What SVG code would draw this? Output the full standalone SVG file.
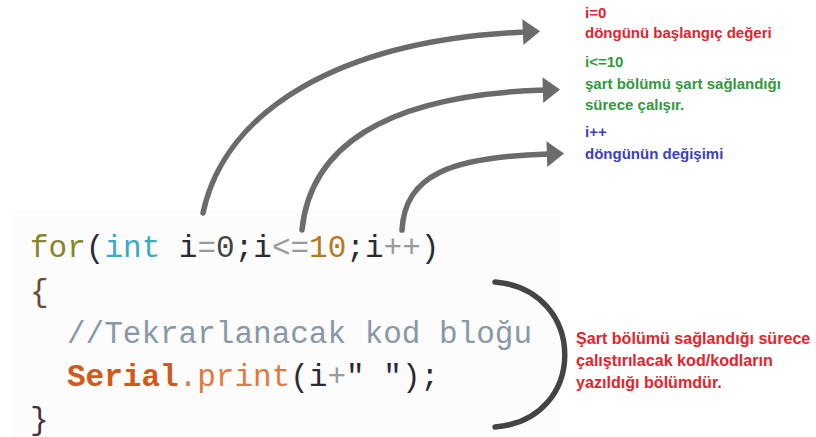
<svg xmlns="http://www.w3.org/2000/svg" width="816" height="437" viewBox="0 0 816 437">
<style>
.code{font-family:"Liberation Mono","Courier New",monospace;font-size:31px;}
.lbl{font-family:"Liberation Sans",Arial,sans-serif;font-size:15px;font-weight:bold;}
.big{font-size:16.1px;}
.conn{fill:none;stroke:#6b6b6b;stroke-width:5.5;stroke-linecap:round;}
.red{fill:#e5232b;}.green{fill:#2f9a3c;}.blue{fill:#3b40c4;}
.dk{fill:#2a2a35;}.gy{fill:#9a9a9a;}
</style>
<defs>
<marker id="ah" markerUnits="userSpaceOnUse" markerWidth="20" markerHeight="28" viewBox="0 -13 18 26" refX="2" refY="0" orient="auto">
<path d="M0,-12 L16,0 L0,12 Z" fill="#6b6b6b"/>
</marker>
</defs>
<rect x="12" y="210" width="548" height="227" fill="#fcfcfc"/>
<g id="code">
<text class="code" x="30" y="257"><tspan fill="#86852a">for</tspan><tspan class="dk">(</tspan><tspan fill="#3aa9c2">int</tspan><tspan class="dk"> i</tspan><tspan class="gy">=</tspan><tspan fill="#444">0</tspan><tspan class="dk">;i</tspan><tspan class="gy">&lt;=</tspan><tspan fill="#b8781e">10</tspan><tspan class="dk">;i</tspan><tspan class="gy">++</tspan><tspan class="dk">)</tspan></text>
<text class="code" x="30" y="301" fill="#6a4a30">{</text>
<text class="code" x="67" y="343" fill="#8898a8">//Tekrarlanacak kod bloğu</text>
<text class="code" x="67" y="386"><tspan fill="#d2591a" font-weight="bold">Serial</tspan><tspan fill="#e27a3e">.print</tspan><tspan class="dk">(i</tspan><tspan class="gy">+</tspan><tspan class="dk">" ");</tspan></text>
<text class="code" x="30" y="429" fill="#4a3040">}</text>
</g>
<g id="connectors">
<path class="conn" marker-end="url(#ah)" d="M203,213 C225,110 340,40 525,32"/>
<path class="conn" marker-end="url(#ah)" d="M302,230 C310,150 380,95 545,90"/>
<path class="conn" marker-end="url(#ah)" d="M402,230 C405,175 450,157 549,154"/>
<path d="M495,282 C588,290 588,420 495,427" fill="none" stroke="#444" stroke-width="5.5" stroke-linecap="round"/>
</g>
<g id="label-init">
<text class="lbl red" x="585" y="18">i=0</text>
<text class="lbl red" x="585" y="38">döngünü başlangıç değeri</text>
</g>
<g id="label-cond">
<text class="lbl green" x="585" y="67">i&lt;=10</text>
<text class="lbl green" x="585" y="89">şart bölümü şart sağlandığı</text>
<text class="lbl green" x="585" y="110">sürece çalışır.</text>
</g>
<g id="label-inc">
<text class="lbl blue" x="585" y="137">i++</text>
<text class="lbl blue" x="585" y="159">döngünün değişimi</text>
</g>
<g id="label-body">
<text class="lbl big red" x="576" y="344">Şart bölümü sağlandığı sürece</text>
<text class="lbl big red" x="576" y="366">çalıştırılacak kod/kodların</text>
<text class="lbl big red" x="576" y="388">yazıldığı bölümdür.</text>
</g>
</svg>
